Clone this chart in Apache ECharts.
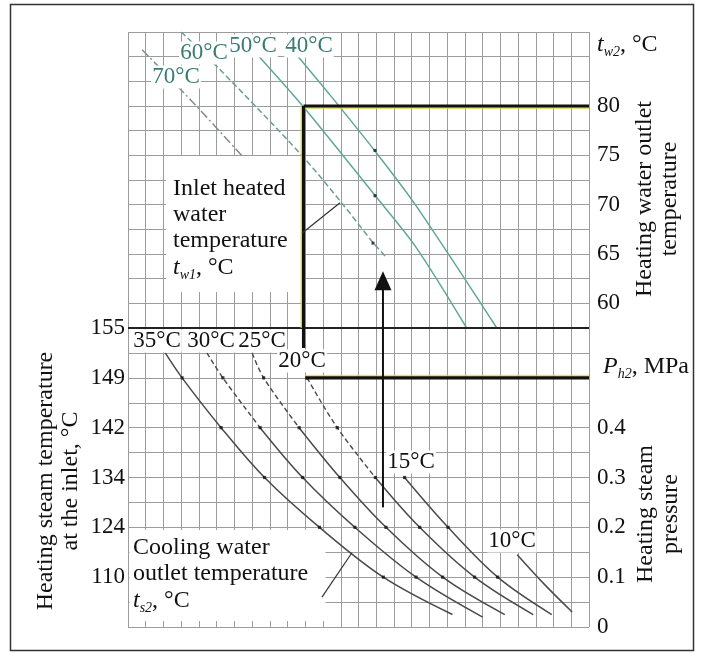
<!DOCTYPE html>
<html>
<head>
<meta charset="utf-8">
<script src="https://cdn.jsdelivr.net/npm/echarts@6/dist/echarts.min.js"></script>
<style>
  html, body { margin: 0; background: #fff; }
  #chart { width: 703px; height: 660px; }
</style>
</head>
<body>
<div id="chart"></div>
<script>
// ---- data ----
// x is a plain column index of the grid paper (26 columns)
const colMax = 26

// top part: heating water outlet temperature t_w2 (°C)
const twMin = 57.5
const twMax = 87.5
const twStep = 2.5
const twTicks = [60, 65, 70, 75, 80]

// bottom part: heating steam pressure P_h2 (MPa) and steam temperature at inlet (°C)
const pMin = 0
const pMax = 0.6
const pStep = 0.05
const pTicks = [0, 0.1, 0.2, 0.3, 0.4]
const steamTempAt = [0.1, 0.2, 0.3, 0.4, 0.5, 0.6]
const steamTemp = [110, 124, 134, 142, 149, 155]

// inlet heated water temperature t_w1 lines: [column, t_w2]
const tw1Names = ['70°C', '60°C', '50°C', '40°C']
const tw1_70 = [[0.8, 85.7], [3.8, 80.1], [6.4, 75.0]]
const tw1_60 = [[3.0, 87.5], [4.8, 84.4], [9.7, 75.2], [12.0, 70.3], [13.8, 66.2], [14.5, 64.8]]
const tw1_50 = [[7.3, 85.2], [9.9, 79.9], [13.9, 71.0], [16.2, 65.8], [19.1, 57.5]]
const tw1_40 = [[9.6, 85.0], [11.4, 81.1], [13.9, 75.5], [16.2, 70.0], [20.8, 57.5]]
const tw1Dots = [[13.93, 75.5], [13.93, 70.9], [13.82, 66.1]]

// cooling water outlet temperature t_s2 curves: [column, P_h2]
const ts2Names = ['35°C', '30°C', '25°C', '20°C', '15°C', '10°C']
const ts2_35 = [[2.1, 0.55], [3.05, 0.5], [5.25, 0.4], [7.7, 0.3], [10.8, 0.2], [14.4, 0.1], [18.3, 0.025]]
const ts2_30 = [[4.45, 0.55], [5.35, 0.5], [7.45, 0.4], [9.85, 0.3], [12.8, 0.2], [16.25, 0.1], [20.0, 0.02]]
const ts2_25 = [[7.0, 0.55], [7.65, 0.5], [9.65, 0.4], [11.95, 0.3], [14.55, 0.2], [17.75, 0.1], [21.25, 0.025]]
const ts2_20 = [[10.1, 0.5], [11.8, 0.4], [13.95, 0.3], [16.45, 0.2], [19.55, 0.1], [22.85, 0.025]]
const ts2_15 = [[15.6, 0.3], [18.05, 0.2], [20.85, 0.1], [23.9, 0.025]]
const ts2_10 = [[21.95, 0.145], [23.5, 0.085], [25.05, 0.03]]
const dotLevels = [0.1, 0.2, 0.3, 0.4, 0.5]

// worked example (thick guide lines and arrow)
const guideCol = 9.9
const guideTw2 = 80
const guidePh2 = 0.5
const guideEndP = 0.56
const arrowCol = 14.38
const arrowFromP = 0.24
const arrowTipTw = 62.3

// leader lines of the two text boxes
const leaderTop = [[9.81, 67.1], [11.96, 70.2]]
const leaderBottom = [[10.94, 0.06], [12.63, 0.149]]

// ---- styling ----
const FONT = "'Liberation Serif', 'Times New Roman', serif"
const GRID_COLOR = '#9c9c9c'
const TEAL_TEXT = '#3a7b75'
const TEAL_LINE = '#62a69b'
const CURVE = '#4a4a4a'
const HILITE = 'rgba(222, 212, 70, 0.75)'
const tw1Styles = [
    { color: '#7f8f8c', type: [9, 3, 2, 3] },
    { color: '#6f9d96', type: [6, 3] },
    { color: TEAL_LINE, type: 'solid' },
    { color: TEAL_LINE, type: 'solid' }
]
// upper part of some t_s2 curves is drawn dashed down to this pressure
const ts2DashTo = [null, 0.4, 0.4, 0.3, null, null]

const near = (a, b) => Math.abs(a - b) < 1e-6

const chart = echarts.init(document.getElementById('chart'))

function colAxis(gridIndex) {
    return {
        type: 'value', gridIndex, min: 0, max: colMax, interval: 1,
        axisLabel: { show: false }, axisTick: { show: false }, axisLine: { show: false },
        splitLine: { show: true, lineStyle: { color: GRID_COLOR, width: 1 } }
    }
}

const labelStyle = { fontFamily: FONT, fontSize: 23, color: '#111' }

function lineSeries(xi, data, lineStyle, extra) {
    return Object.assign({
        type: 'line', xAxisIndex: xi, yAxisIndex: xi === 0 ? 0 : 1,
        data, symbol: 'none', silent: true, z: 3,
        lineStyle: Object.assign({ width: 1.5 }, lineStyle)
    }, extra || {})
}

const series = []

// t_w1 lines (top)
;[tw1_70, tw1_60, tw1_50, tw1_40].forEach((d, i) => {
    series.push(lineSeries(0, d, tw1Styles[i], { name: tw1Names[i], smooth: 0.3 }))
})
series.push({
    type: 'scatter', xAxisIndex: 0, yAxisIndex: 0, data: tw1Dots,
    symbol: 'rect', symbolSize: 3, itemStyle: { color: '#111' }, silent: true, z: 4
})

// t_s2 curves (bottom)
const ts2Curves = [ts2_35, ts2_30, ts2_25, ts2_20, ts2_15, ts2_10]
const bottomDots = []
ts2Curves.forEach((d, i) => {
    const cut = ts2DashTo[i]
    if (cut != null) {
        series.push(lineSeries(1, d.filter(p => p[1] >= cut - 1e-9), { color: CURVE, width: 1.4, type: [5, 3] }, { smooth: 0.35 }))
        series.push(lineSeries(1, d.filter(p => p[1] <= cut + 1e-9), { color: CURVE, width: 1.5 }, { name: ts2Names[i], smooth: 0.35 }))
    } else {
        series.push(lineSeries(1, d, { color: CURVE, width: 1.5 }, { name: ts2Names[i], smooth: 0.35 }))
    }
    d.forEach(p => { if (dotLevels.some(l => near(l, p[1]))) bottomDots.push(p) })
})
series.push({
    type: 'scatter', xAxisIndex: 1, yAxisIndex: 1, data: bottomDots,
    symbol: 'rect', symbolSize: 3.2, itemStyle: { color: '#111' }, silent: true, z: 4
})

// separator between the two parts (155 °C line)
series.push(lineSeries(1, [[0, pMax], [colMax, pMax]], { color: '#222', width: 2 }, { z: 5 }))

// thick guide lines of the example
series.push(lineSeries(0, [[guideCol, guideTw2], [colMax, guideTw2]],
    { color: '#111', width: 3.2, shadowColor: HILITE, shadowBlur: 0, shadowOffsetY: 1.5 }, { z: 6 }))
series.push(lineSeries(0, [[guideCol, guideTw2], [guideCol, twMin]],
    { color: '#111', width: 3.2, shadowColor: HILITE, shadowBlur: 0, shadowOffsetX: -1.5 }, { z: 6 }))
series.push(lineSeries(1, [[guideCol, pMax], [guideCol, guideEndP]], { color: '#111', width: 3.2 }, { z: 6 }))
series.push(lineSeries(1, [[guideCol + 0.1, guidePh2], [colMax, guidePh2]],
    { color: '#111', width: 3.2, shadowColor: HILITE, shadowBlur: 0, shadowOffsetY: -1.5 }, { z: 6 }))

// arrow
series.push(lineSeries(1, [[arrowCol, arrowFromP], [arrowCol, pMax]], { color: '#111', width: 2 }, { z: 6 }))
series.push(lineSeries(0, [[arrowCol, twMin], { value: [arrowCol, arrowTipTw], symbol: 'triangle', symbolSize: [17, 19] }],
    { color: '#111', width: 2 }, { z: 6, showSymbol: true, itemStyle: { color: '#111' } }))

// leader lines
series.push(lineSeries(0, leaderTop, { color: '#333', width: 1.2 }, { z: 7 }))
series.push(lineSeries(1, leaderBottom, { color: '#333', width: 1.2 }, { z: 7 }))

// ---- annotation texts ----
const sub = { fontSize: 14, fontStyle: 'italic', fontFamily: FONT, verticalAlign: 'bottom', lineHeight: 28 }
const ital = { fontSize: 24, fontStyle: 'italic', fontFamily: FONT, lineHeight: 28 }
const norm = { fontSize: 24, fontFamily: FONT, lineHeight: 28 }

function txt(x, y, text, opt) {
    return {
        type: 'text', x, y, z: 50, silent: true, rotation: (opt && opt.rotation) || 0,
        style: Object.assign({
            text, fill: '#111', fontFamily: FONT, fontSize: 24,
            align: 'center', verticalAlign: 'middle',
            rich: { i: ital, s: sub, n: norm }
        }, (opt && opt.style) || {})
    }
}
const boxLabel = { fontSize: 23, backgroundColor: '#fff', padding: [0, 1] }

const graphic = [
    { type: 'rect', shape: { x: 10.5, y: 4.5, width: 683, height: 646 }, style: { fill: 'none', stroke: '#333', lineWidth: 1.5 }, z: 60, silent: true },
    // white boxes behind the two explanation texts
    { type: 'rect', shape: { x: 166, y: 156, width: 136, height: 136 }, style: { fill: '#fff' }, z: 1, silent: true },
    { type: 'rect', shape: { x: 129.5, y: 530, width: 196, height: 91 }, style: { fill: '#fff' }, z: 1, silent: true },

    txt(176, 77, tw1Names[0], { style: Object.assign({}, boxLabel, { fill: TEAL_TEXT }) }),
    txt(204, 53, tw1Names[1], { style: Object.assign({}, boxLabel, { fill: TEAL_TEXT }) }),
    txt(253, 46, tw1Names[2], { style: Object.assign({}, boxLabel, { fill: TEAL_TEXT }) }),
    txt(309, 46, tw1Names[3], { style: Object.assign({}, boxLabel, { fill: TEAL_TEXT }) }),

    txt(157, 341, ts2Names[0], { style: boxLabel }),
    txt(211, 341, ts2Names[1], { style: boxLabel }),
    txt(262, 341, ts2Names[2], { style: boxLabel }),
    txt(302, 361, ts2Names[3], { style: boxLabel }),
    txt(411, 462, ts2Names[4], { style: boxLabel }),
    txt(512, 541, ts2Names[5], { style: boxLabel }),

    txt(173, 176, 'Inlet heated\nwater\ntemperature\n{i|t}{s|w1}{n|, °C}', { style: { align: 'left', verticalAlign: 'top', lineHeight: 26 } }),
    txt(133, 535, 'Cooling water\noutlet temperature\n{i|t}{s|s2}{n|, °C}', { style: { align: 'left', verticalAlign: 'top', lineHeight: 26 } }),

    txt(597, 45, '{i|t}{s|w2}{n|, °C}', { style: { align: 'left' } }),
    txt(603, 367, '{i|P}{s|h2}{n|, MPa}', { style: { align: 'left' } }),

    txt(657, 199, 'Heating water outlet\ntemperature', { rotation: Math.PI / 2, style: { lineHeight: 25 } }),
    txt(658, 514, 'Heating steam\npressure', { rotation: Math.PI / 2, style: { lineHeight: 25 } }),
    txt(58, 481, 'Heating steam temperature\nat the inlet, °C', { rotation: Math.PI / 2, style: { lineHeight: 25 } })
]

chart.setOption({
    animation: false,
    backgroundColor: '#fff',
    textStyle: { fontFamily: FONT },
    grid: [
        { left: 128, top: 32, width: 461, height: 296 },
        { left: 128, top: 328, width: 461, height: 299 }
    ],
    xAxis: [colAxis(0), colAxis(1)],
    yAxis: [
        {
            type: 'value', gridIndex: 0, position: 'right', min: twMin, max: twMax, interval: twStep,
            axisLine: { show: false }, axisTick: { show: false },
            splitLine: { show: true, lineStyle: { color: GRID_COLOR, width: 1 } },
            axisLabel: Object.assign({}, labelStyle, {
                margin: 8, showMinLabel: true, showMaxLabel: true,
                formatter: v => (twTicks.some(t => near(t, v)) ? String(Math.round(v)) : '')
            })
        },
        {
            type: 'value', gridIndex: 1, position: 'right', min: pMin, max: pMax, interval: pStep,
            axisLine: { show: false }, axisTick: { show: false },
            splitLine: { show: true, lineStyle: { color: GRID_COLOR, width: 1 } },
            axisLabel: Object.assign({}, labelStyle, {
                margin: 8, showMinLabel: true, showMaxLabel: true,
                formatter: v => {
                    const t = pTicks.find(t => near(t, v))
                    return t === undefined ? '' : (t === 0 ? '0' : t.toFixed(1))
                }
            })
        },
        {
            type: 'value', gridIndex: 1, position: 'left', min: pMin, max: pMax, interval: pStep,
            axisLine: { show: false }, axisTick: { show: false }, splitLine: { show: false },
            axisLabel: Object.assign({}, labelStyle, {
                margin: 3, showMinLabel: true, showMaxLabel: true,
                formatter: v => {
                    const k = steamTempAt.findIndex(p => near(p, v))
                    return k < 0 ? '' : String(steamTemp[k])
                }
            })
        }
    ],
    series,
    graphic
})
</script>
</body>
</html>
